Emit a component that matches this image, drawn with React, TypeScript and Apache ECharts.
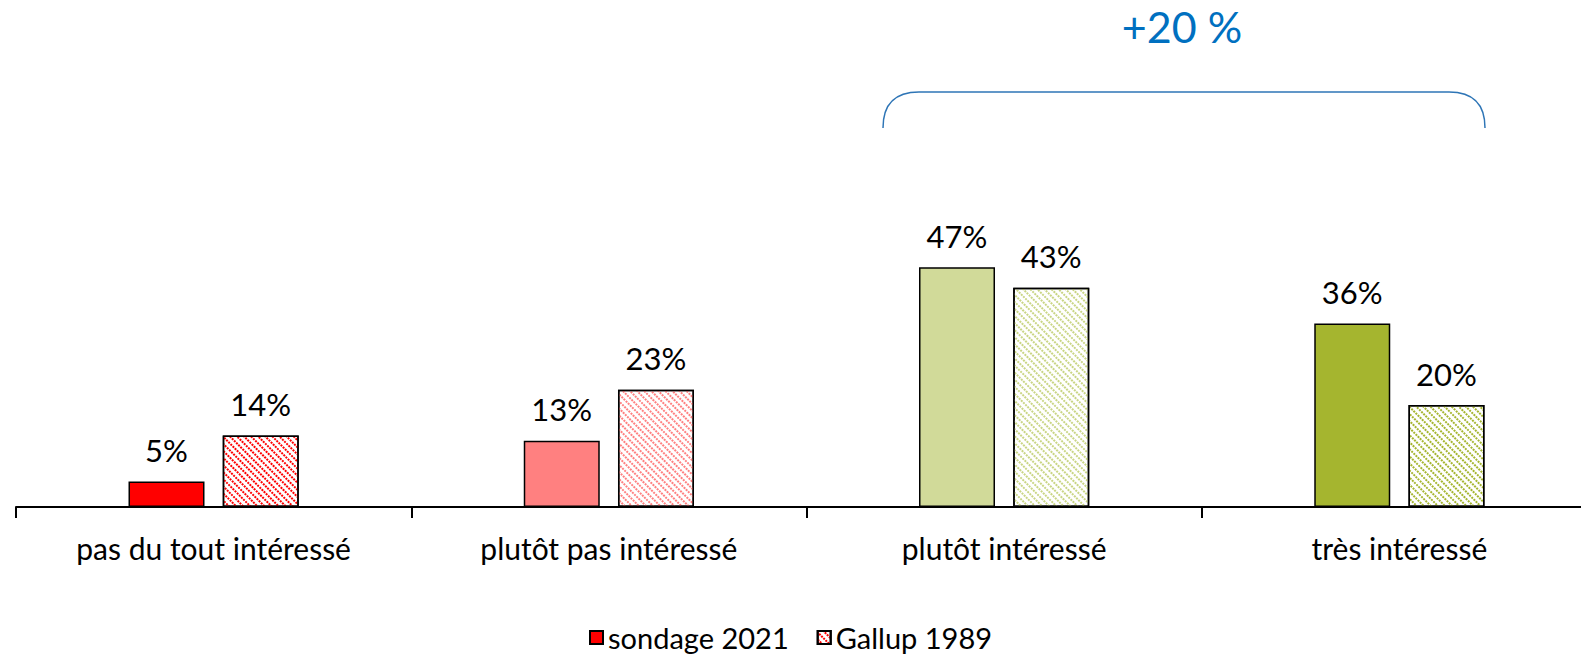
import React, { useEffect, useRef } from "react";
import * as echarts from "echarts";

const categories = ["pas du tout intéressé", "plutôt pas intéressé", "plutôt intéressé", "très intéressé"];
const sondage2021 = [5, 13, 47, 36];
const gallup1989 = [14, 23, 43, 20];
const fillColors = ["#FF0000", "#FF8080", "#D1DA99", "#A5B52F"];
const hatchColors = ["#FF0000", "#FF8080", "#C9D584", "#A5B52F"];
const seriesNames = ["sondage 2021", "Gallup 1989"];
const braceLabel = "+20 %";

const FONT = "Lato";

function hatch(color: string) {
  return {
    symbol: "rect",
    symbolSize: 1,
    color,
    backgroundColor: "rgba(0,0,0,0)",
    dashArrayX: [2, 1],
    dashArrayY: [1.7, 2.5],
    rotation: Math.PI / 4,
  };
}

let registered = false;

export default function App() {
  const ref = useRef<HTMLDivElement>(null);
  useEffect(() => {
    document.body.style.margin = "0";
    document.body.style.overflow = "hidden";
    if (!registered) {
      echarts.graphic.registerShape(
        "brace",
        echarts.graphic.extendPath("M0,36 C0,12 12,0 36,0 L566,0 C590,0 602,12 602,36", {})
      );
      registered = true;
    }
    const chart = echarts.init(ref.current!, null, { renderer: "svg" });
    const labelStyle = {
      show: true,
      position: "top",
      distance: 16,
      formatter: "{c}%",
      fontSize: 31,
      color: "#000",
      fontFamily: FONT,
    };
    chart.setOption({
      animation: false,
      backgroundColor: "#fff",
      textStyle: { fontFamily: FONT },
      grid: { left: 16, right: 0, top: 201, bottom: 147, containLabel: false },
      legend: {
        top: 618,
        left: 584,
        itemWidth: 13,
        itemHeight: 13,
        itemGap: 28,
        textStyle: { fontSize: 29, color: "#000", fontFamily: FONT },
        data: [
          { name: seriesNames[0], icon: "rect" },
          { name: seriesNames[1], icon: "rect" },
        ],
      },
      xAxis: {
        type: "category",
        data: categories,
        axisLine: { lineStyle: { color: "#000", width: 2 } },
        axisTick: { show: true, length: 11, lineStyle: { color: "#000", width: 2 } },
        axisLabel: { color: "#000", fontSize: 30, margin: 26, fontFamily: FONT, interval: 0 },
      },
      yAxis: { type: "value", min: 0, max: 60, show: false, splitLine: { show: false } },
      series: [
        {
          name: seriesNames[0],
          type: "bar",
          barWidth: 76,
          barGap: "24%",
          itemStyle: { color: fillColors[0], borderColor: "#000", borderWidth: 1.5 },
          label: labelStyle,
          data: sondage2021.map((v, i) => ({ value: v, itemStyle: { color: fillColors[i] } })),
        },
        {
          name: seriesNames[1],
          type: "bar",
          barWidth: 76,
          barGap: "24%",
          itemStyle: {
            color: "#fff",
            borderColor: "#000",
            borderWidth: 1.5,
            decal: hatch(hatchColors[0]),
          },
          label: labelStyle,
          data: gallup1989.map((v, i) => ({
            value: v,
            itemStyle: { color: "#fff", decal: hatch(hatchColors[i]) },
          })),
        },
      ],
      graphic: [
        {
          type: "brace",
          x: 883,
          y: 92,
          silent: true,
          style: { stroke: "#2E75B6", fill: "none", lineWidth: 1.5 },
        },
        {
          type: "text",
          x: 1182,
          y: 26,
          style: {
            text: braceLabel,
            fill: "#0070C0",
            fontSize: 43,
            fontFamily: FONT,
            align: "center",
            verticalAlign: "middle",
          },
        },
      ],
    });
    return () => chart.dispose();
  }, []);
  return <div ref={ref} style={{ width: 1597, height: 654 }} />;
}
